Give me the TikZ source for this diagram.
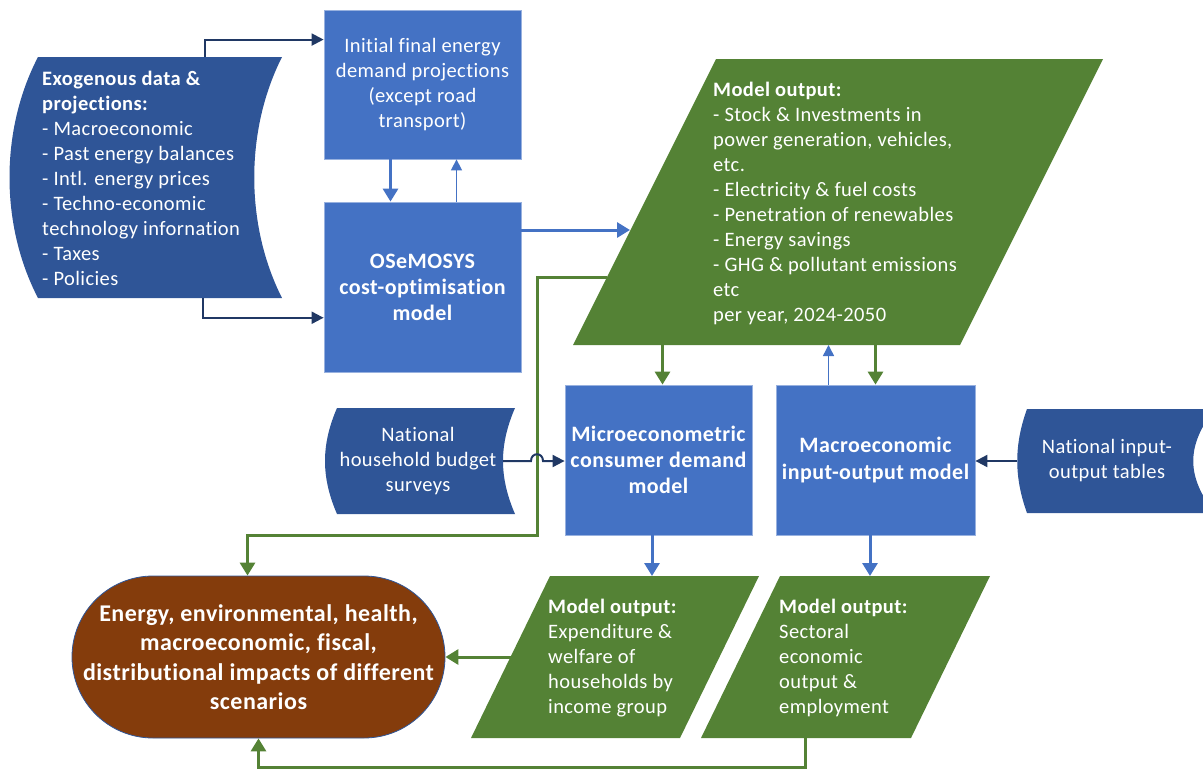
\documentclass[tikz,border=0pt]{standalone}
\usepackage{fontspec}
\setmainfont{Carlito}[LetterSpace=2,Ligatures={NoCommon}]
\usetikzlibrary{arrows.meta,positioning,calc}
\definecolor{boxblue}{HTML}{4472C4}
\definecolor{datablue}{HTML}{2F5597}
\definecolor{linknavy}{HTML}{203864}
\definecolor{outgreen}{HTML}{548235}
\definecolor{impbrown}{HTML}{843C0C}

\begin{document}
\begin{tikzpicture}[x=1pt,y=-1pt,
  txt/.style={text=white,font=\fontsize{20.5}{25}\selectfont,inner sep=0pt},
  model/.style={rectangle,fill=boxblue,draw=boxblue!55!white,line width=0.8pt,text=white,
    font=\fontsize{20.5}{25}\selectfont,align=center,inner sep=0pt},
  navy/.style={draw=linknavy,line width=2pt,-{Triangle[length=12pt,width=12pt]}},
  blueln/.style={draw=boxblue,line width=3pt,-{Triangle[length=13pt,width=15pt]}},
  bluethin/.style={draw=boxblue,line width=1.5pt,-{Triangle[length=11pt,width=11pt]}},
  greenln/.style={draw=outgreen,line width=3pt,-{Triangle[length=13pt,width=15pt]}}]
\useasboundingbox (0,0) rectangle (1203,769);

%% data inputs (curved sides)
\fill[datablue] (38,57) -- (282,57) .. controls (245,130) and (245,225) .. (282,298)
  -- (38,298) .. controls (0,225) and (0,130) .. (38,57) -- cycle;
\fill[datablue] (337,408) -- (515,408) .. controls (499,445) and (499,477) .. (515,514)
  -- (337,514) .. controls (321,477) and (321,445) .. (337,408) -- cycle;
\fill[datablue] (1027,409) -- (1215,409) .. controls (1186,445) and (1186,477) .. (1215,513)
  -- (1027,513) .. controls (1014,477) and (1014,445) .. (1027,409) -- cycle;
\coordinate (exo-n) at (205,57);
\coordinate (exo-s) at (203,298);
\coordinate (hhs-e) at (503,461);
\coordinate (iot-w) at (1017,461);

%% model outputs (parallelograms)
\fill[outgreen] (716,59) -- (1103,59) -- (960,345) -- (573,345) -- cycle;
\fill[outgreen] (550,576) -- (759,576) -- (680,738) -- (471,738) -- cycle;
\fill[outgreen] (780,576) -- (990,576) -- (911,738) -- (701,738) -- cycle;
\coordinate (bigout-w) at (630,230);
\coordinate (bigout-lw) at (607,277);
\coordinate (bigout-s) at (766,345);
\coordinate (hhout-n) at (652,576);
\coordinate (hhout-w) at (511,657);
\coordinate (ioout-n) at (870,576);
\coordinate (ioout-s) at (805,738);
\coordinate (loopc) at (537,535);
\coordinate (loopb) at (805,767);

%% texts of the input / output shapes
\node[txt,align=left,anchor=west] (exo) at (42,178) {\textbf{Exogenous data \&}\\\textbf{projections:}\\- Macroeconomic\\- Past energy balances\\- Intl. energy prices\\- Techno-economic\\technology infornation\\- Taxes\\- Policies};
\node[txt,align=center] (hhs) at (418,461) {National\\household budget\\surveys};
\node[txt,align=center] (iot) at (1107,461) {National input-\\output tables};
\node[txt,align=left,anchor=west] (bigout) at (713,203) {\textbf{Model output:}\\- Stock \& Investments in\\power generation, vehicles,\\etc.\\- Electricity \& fuel costs\\- Penetration of renewables\\- Energy savings\\- GHG \& pollutant emissions\\etc\\per year, 2024-2050};
\node[txt,align=left,anchor=west] (hhout) at (548,658) {\textbf{Model output:}\\Expenditure \&\\welfare of\\households by\\income group};
\node[txt,align=left,anchor=west] (ioout) at (779,658) {\textbf{Model output:}\\Sectoral\\economic\\output \&\\employment};

%% models
\node[model,minimum width=197,minimum height=149] (initial) at (422.5,84.5) {Initial final energy\\demand projections\\(except road\\transport)};
\node[model,minimum width=197,minimum height=170,font=\fontsize{22}{26}\selectfont\bfseries] (osemosys) at (422.5,287) {OSeMOSYS\\cost-optimisation\\model};
\node[model,minimum width=187,minimum height=150,font=\fontsize{22}{26}\selectfont\bfseries] (micro) at (658.5,460) {Microeconometric\\consumer demand\\model};
\node[model,minimum width=199,minimum height=150,font=\fontsize{22}{27}\selectfont\bfseries] (macro) at (875.5,460) {Macroeconomic\\input-output model};
\node[rectangle,rounded corners=81,fill=impbrown,draw=datablue,line width=0.8pt,text=white,
  font=\fontsize{24}{29.5}\selectfont\bfseries,align=center,minimum width=373,minimum height=162]
  (impacts) at (258.5,657) {Energy, environmental, health,\\macroeconomic, fiscal,\\distributional impacts of different\\scenarios};

%% connectors
\draw[navy] (exo-n) |- ($(initial.north west)!0.2!(initial.south west)$);
\draw[navy] (exo-s) |- ($(osemosys.north west)!0.68!(osemosys.south west)$);
\draw[blueln] ([xshift=-32pt]initial.south) -- ([xshift=-32pt]osemosys.north);
\draw[bluethin] ([xshift=34pt]osemosys.north) -- ([xshift=34pt]initial.south);
\draw[blueln] (osemosys.east |- bigout-w) -- (bigout-w);
\draw[greenln] (bigout-lw) -| (loopc) -| ([xshift=-11pt]impacts.north);
\draw[greenln] ([xshift=4pt]micro.north |- bigout-s) -- ([xshift=4pt]micro.north);
\draw[greenln] (macro.north |- bigout-s) -- (macro.north);
\draw[bluethin] ([xshift=-47pt]macro.north) -- ([xshift=-47pt]macro.north |- bigout-s);
\draw[navy] (hhs-e) -- ++(28,0) .. controls +(0,-9) and +(0,-9) .. ++(12,0) -- (micro.west |- hhs-e);
\draw[navy] (iot-w) -- (macro.east |- iot-w);
\draw[blueln] (micro.south -| hhout-n) -- (hhout-n);
\draw[blueln] (macro.south -| ioout-n) -- (ioout-n);
\draw[greenln] (hhout-w) -- (impacts.east);
\draw[greenln] (ioout-s) -- (loopb) -| (impacts.south);
\end{tikzpicture}
\end{document}
